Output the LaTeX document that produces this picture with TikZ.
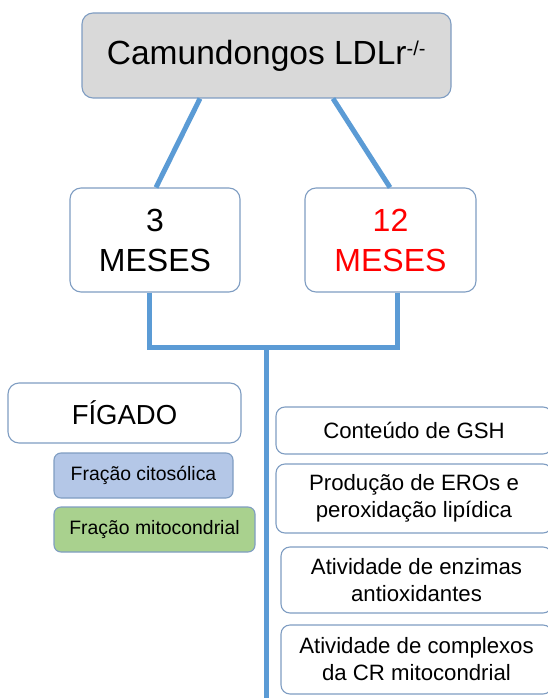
\documentclass[tikz,border=0pt]{standalone}
\usepackage{fontspec}
\setmainfont{Liberation Sans}
\usetikzlibrary{calc}
\definecolor{linkblue}{HTML}{5B9BD5}
\definecolor{boxborder}{HTML}{7F9DC2}
\definecolor{topfill}{HTML}{D9D9D9}
\definecolor{cytofill}{HTML}{B4C7E7}
\definecolor{mitofill}{HTML}{A9D18E}
\definecolor{redtext}{HTML}{FF0000}
\tikzset{
  rbox/.style={draw=boxborder, line width=1.1pt, rounded corners=11pt, fill=white, align=center, inner sep=0pt},
  link/.style={draw=linkblue, line width=5pt},
  bigfont/.style={font=\fontsize{32}{40}\selectfont},
  midfont/.style={font=\fontsize{22.2}{27}\selectfont},
  smallfont/.style={font=\fontsize{19.4}{22}\selectfont},
}
\begin{document}
\begin{tikzpicture}[x=1pt,y=-1pt]
\useasboundingbox (0,0) rectangle (548,698);
\clip (0,0) rectangle (548,698);
% top
\node[rbox, fill=topfill, minimum width=369pt, minimum height=85pt, font=\fontsize{33.5}{40}\selectfont] (top) at (266.5,55.5)
  {Camundongos LDLr\textsuperscript{\fontsize{20}{20}\selectfont -/-}};
\node[rbox, minimum width=170pt, minimum height=104pt, bigfont] (m3) at (155,240)
  {3\\MESES};
\node[rbox, minimum width=171pt, minimum height=104pt, text=redtext, bigfont] (m12) at (390.5,240)
  {12\\MESES};
% connectors top
\draw[link] ($(top.south)+(-66.5,0)$) -- ($(m3.north)+(1,0)$);
\draw[link] ($(top.south)+(66.5,0)$) -- ($(m12.north)+(-0.5,0)$);
% bottom bracket
\coordinate (jl) at ($(m3.south)+(-6,55)$);
\coordinate (jr) at ($(m12.south)+(6.5,55)$);
\coordinate (jc) at (266,347);
\coordinate (jend) at (266,705);
\draw[link, line join=miter] ($(m3.south)+(-6,0)$) -- (jl) -- (jr) -- ($(m12.south)+(6.5,0)$);
\draw[link] (jc) -- (jend);
% left side
\node[rbox, minimum width=233pt, minimum height=60pt, font=\fontsize{27.5}{32}\selectfont] (fig) at (124.5,413)
  {FÍGADO};
\node[rbox, fill=cytofill, rounded corners=7pt, minimum width=179pt, minimum height=45pt, smallfont] (cyto) at (143.5,475.5)
  {Fração citosólica};
\node[rbox, fill=mitofill, rounded corners=7pt, minimum width=201pt, minimum height=45pt, smallfont] (mito) at (154.5,529.5)
  {Fração mitocondrial};
% right side
\node[rbox, rounded corners=9pt, minimum width=276pt, minimum height=47pt, midfont] (gsh) at (414,430.5)
  {Conteúdo de GSH};
\node[rbox, rounded corners=9pt, minimum width=276pt, minimum height=69pt, midfont] (ero) at (414,498.5)
  {Produção de EROs e\\peroxidação lipídica};
\node[rbox, rounded corners=9pt, minimum width=271pt, minimum height=66pt, midfont] (enz) at (416.5,580)
  {Atividade de enzimas\\antioxidantes};
\node[rbox, rounded corners=9pt, minimum width=271pt, minimum height=69pt, midfont] (cr) at (416.5,659.5)
  {Atividade de complexos\\da CR mitocondrial};
\end{tikzpicture}
\end{document}
